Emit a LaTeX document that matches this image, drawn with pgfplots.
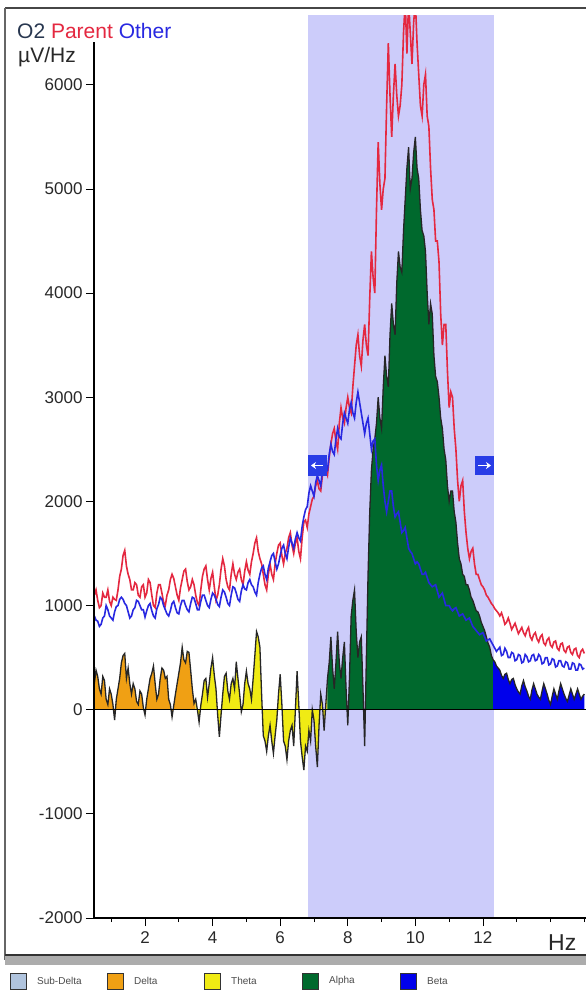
\documentclass[border=0pt]{standalone}
\usepackage{fontspec}
\setmainfont{Liberation Sans}
\usepackage{pgfplots}
\usepackage{pgfplotstable}
\pgfplotsset{compat=1.18}
\usetikzlibrary{arrows.meta}
\definecolor{parentred}{RGB}{228,40,64}
\definecolor{otherblue}{RGB}{40,40,225}
\definecolor{bandorange}{RGB}{240,160,20}
\definecolor{bandyellow}{RGB}{240,235,20}
\definecolor{bandgreen}{RGB}{0,105,45}
\definecolor{bandblue}{RGB}{0,0,235}
\definecolor{subdelta}{RGB}{176,196,222}
\definecolor{selshade}{RGB}{204,204,250}
\definecolor{arrowblue}{RGB}{40,60,230}
\definecolor{o2col}{RGB}{40,55,80}
\definecolor{labgray}{RGB}{40,40,40}

\pgfplotstableread{
x P O D
0.5 1100 900 250
0.55 1150 860 380
0.6 1050 850 320
0.65 980 800 200
0.7 1000 820 150
0.75 1120 880 320
0.8 1080 900 280
0.85 1080 1000 100
0.9 1150 960 50
0.95 1040 900 200
1.0 1000 880 150
1.05 1080 860 50
1.1 1060 940 -100
1.15 1050 990 100
1.2 1150 1000 200
1.25 1280 1060 300
1.3 1350 1080 450
1.35 1480 1060 520
1.4 1530 1020 540
1.45 1380 1000 300
1.5 1300 940 400
1.55 1250 880 250
1.6 1150 900 150
1.65 1150 960 250
1.7 1220 980 200
1.75 1200 1050 80
1.8 1100 1040 50
1.85 1080 1000 180
1.9 1180 960 150
1.95 1200 960 20
2.0 1080 890 -50
2.05 1120 950 100
2.1 1250 1000 200
2.15 1220 1020 300
2.2 1100 950 350
2.25 1000 900 420
2.3 980 880 250
2.35 1120 970 100
2.4 1200 1010 150
2.45 1200 1080 300
2.5 1120 1060 400
2.55 1030 1000 380
2.6 1000 960 300
2.65 1100 920 320
2.7 1150 900 100
2.75 1250 950 50
2.8 1300 1020 -70
2.85 1260 1040 40
2.9 1180 980 150
2.95 1100 930 250
3.0 1050 920 350
3.05 1170 1000 450
3.1 1250 1050 600
3.15 1330 1050 480
3.2 1350 1000 450
3.25 1230 960 560
3.3 1150 940 550
3.35 1180 1020 380
3.4 1250 1080 200
3.45 1200 1070 60
3.5 1100 1020 100
3.55 1030 960 0
3.6 1000 960 -120
3.65 1150 1040 40
3.7 1280 1100 150
3.75 1350 1100 280
3.8 1380 1050 300
3.85 1250 1000 120
3.9 1150 980 250
3.95 1260 1060 400
4.0 1320 1120 500
4.05 1180 1100 330
4.1 1050 1060 200
4.15 1100 1010 -50
4.2 1200 990 -260
4.25 1350 1080 -50
4.3 1450 1150 150
4.35 1380 1130 320
4.4 1250 1080 350
4.45 1180 1020 180
4.5 1150 1000 100
4.55 1300 1100 250
4.6 1400 1180 300
4.65 1300 1170 200
4.7 1250 1120 460
4.75 1320 1060 300
4.8 1350 1040 150
4.85 1250 1140 -20
4.9 1200 1200 50
4.95 1330 1160 250
5.0 1420 1150 370
5.05 1340 1220 250
5.1 1300 1250 200
5.15 1420 1200 100
5.2 1500 1180 300
5.25 1600 1130 520
5.3 1650 1100 750
5.35 1520 1220 700
5.4 1450 1300 600
5.45 1400 1360 150
5.5 1300 1380 -250
5.55 1200 1300 -300
5.6 1150 1250 -400
5.65 1300 1360 -250
5.7 1400 1420 -150
5.75 1300 1480 -300
5.8 1250 1500 -420
5.85 1400 1420 -250
5.9 1500 1350 -100
5.95 1580 1400 150
6.0 1600 1480 340
6.05 1480 1550 50
6.1 1400 1580 -300
6.15 1500 1500 -350
6.2 1550 1450 -480
6.25 1650 1560 -300
6.3 1700 1650 -200
6.35 1580 1600 -150
6.4 1500 1550 -350
6.45 1600 1640 0
6.5 1650 1700 370
6.55 1520 1650 50
6.6 1450 1620 -300
6.65 1650 1760 -450
6.7 1800 1850 -580
6.75 1820 1920 -350
6.8 1750 1950 -400
6.85 1880 2080 -200
6.9 1950 2150 -300
6.95 2020 2100 0
7.0 2050 2050 -100
7.05 2150 2180 -350
7.1 2200 2250 -550
7.15 2120 2200 -150
7.2 2100 2150 150
7.25 2250 2300 50
7.3 2350 2400 -200
7.35 2300 2320 50
7.4 2250 2300 300
7.45 2420 2450 450
7.5 2550 2550 700
7.55 2650 2480 400
7.6 2700 2450 200
7.65 2580 2600 450
7.7 2500 2700 750
7.75 2750 2620 450
7.8 2900 2600 300
7.85 2800 2750 500
7.9 2750 2850 650
7.95 2900 2800 200
8.0 3000 2750 -150
8.05 2900 2880 300
8.1 2850 2950 900
8.15 3100 2850 1050
8.2 3300 2800 1150
8.25 3500 2950 750
8.3 3600 3050 500
8.35 3400 2950 650
8.4 3300 2850 700
8.45 3550 2750 200
8.5 3700 2650 -350
8.55 3500 2750 500
8.6 3400 2800 1300
8.65 3950 2650 1900
8.7 4400 2500 2300
8.75 4150 2580 2500
8.8 4000 2600 2600
8.85 4800 2350 2750
8.9 5450 2200 3000
8.95 5050 2300 2800
9.0 4800 2350 2700
9.05 5000 2150 3100
9.1 5100 2000 3400
9.15 5800 1900 3200
9.2 6400 2000 3100
9.25 5900 2100 3600
9.3 5500 2100 3900
9.35 5900 1950 3700
9.4 6200 1850 3600
9.45 5900 1880 4100
9.5 5700 1900 4400
9.55 5800 1800 4250
9.6 6000 1700 4200
9.65 6500 1720 4600
9.7 6800 1750 4900
9.75 6300 1650 5200
9.8 6800 1550 5400
9.85 6500 1520 5000
9.9 6200 1500 5100
9.95 6600 1450 5350
10.0 6800 1400 5500
10.05 6400 1420 5200
10.1 6100 1400 5100
10.15 5800 1350 4800
10.2 5700 1300 4600
10.25 6000 1300 4550
10.3 6100 1320 4400
10.35 5700 1270 4000
10.4 5600 1220 3700
10.45 5200 1200 3900
10.5 4900 1180 3800
10.55 4800 1190 3400
10.6 4500 1200 3200
10.65 4500 1140 3150
10.7 4300 1080 3000
10.75 3800 1100 2800
10.8 3500 1120 2700
10.85 3700 1060 2500
10.9 3700 1000 2400
10.95 3250 1000 2150
11.0 2900 1000 2000
11.05 3050 970 2100
11.1 3000 950 2100
11.15 2700 970 1900
11.2 2500 980 1800
11.25 2200 940 1600
11.3 2000 900 1450
11.35 2150 910 1400
11.4 2200 920 1300
11.45 1900 890 1280
11.5 1700 860 1200
11.55 1550 870 1200
11.6 1450 880 1150
11.65 1520 840 1080
11.7 1550 800 1050
11.75 1400 780 1000
11.8 1300 760 950
11.85 1300 740 940
11.9 1250 720 900
11.95 1200 730 840
12.0 1180 740 800
12.05 1150 700 760
12.1 1100 660 700
12.15 1080 670 640
12.2 1050 680 600
12.25 1020 650 520
12.3 1000 620 480
12.35 970 590 460
12.4 950 560 420
12.45 930 580 400
12.5 900 600 380
12.55 930 520 330
12.6 880 530 300
12.65 820 590 340
12.7 840 560 350
12.75 880 500 290
12.8 830 500 250
12.85 770 550 290
12.9 800 540 300
12.95 830 470 240
13.0 780 480 200
13.05 730 530 170
13.1 760 520 150
13.15 790 450 230
13.2 740 460 280
13.25 710 530 220
13.3 760 510 180
13.35 790 460 130
13.4 700 470 100
13.45 670 520 190
13.5 720 530 250
13.55 740 470 200
13.6 680 480 150
13.65 650 530 120
13.7 700 510 100
13.75 720 440 180
13.8 640 450 250
13.85 620 500 200
13.9 670 500 150
13.95 690 430 90
14.0 620 440 50
14.05 600 490 130
14.1 650 480 200
14.15 660 410 150
14.2 590 420 100
14.25 570 470 180
14.3 630 470 250
14.35 640 420 200
14.4 570 410 150
14.45 550 460 110
14.5 600 450 80
14.55 610 390 140
14.6 550 390 200
14.65 530 450 150
14.7 580 440 100
14.75 590 380 150
14.8 520 380 200
14.85 500 440 150
14.9 560 430 100
14.95 580 390 130
15.0 540 400 150
}\spec

\begin{document}
\begin{tikzpicture}
\fill[white] (0pt,0pt) rectangle (586pt,-997pt);
\path[use as bounding box] (0pt,0pt) rectangle (586pt,-997pt);
\begin{axis}[
  at={(94pt,-918pt)}, anchor=south west,
  scale only axis, width=492pt, height=903pt,
  xmin=0.49, xmax=15.05, ymin=-2000, ymax=6670,
  axis x line=bottom, axis y line=left,
  axis line style={draw=none},
  tick align=outside,
  xtick={2,4,6,8,10,12},
  xticklabels={2,4,6,8,10,12},
  minor xtick={1,3,5,7,9,11,13,14,15},
  ytick={-2000,-1000,0,1000,2000,3000,4000,5000,6000},
  yticklabels={-2000,-1000,0,1000,2000,3000,4000,5000,6000},
  major tick length=8pt, minor tick length=4pt,
  tick style={black, line width=0.8pt},
  ticklabel style={font=\fontsize{17}{17}\selectfont, text=labgray},
  xticklabel style={yshift=-2pt},
  clip=true,
]
\addplot[draw=none, fill=selshade] coordinates {(6.82,-2000) (6.82,6670) (12.32,6670) (12.32,-2000)} -- cycle;
\addplot[draw=none, fill=bandorange, restrict x to domain=0.5:3.5] table[x=x,y=D] {\spec} \closedcycle;
\addplot[draw=none, fill=bandyellow, restrict x to domain=3.5:7.4] table[x=x,y=D] {\spec} \closedcycle;
\addplot[draw=none, fill=bandgreen, restrict x to domain=7.4:12.3] table[x=x,y=D] {\spec} \closedcycle;
\addplot[draw=none, fill=bandblue, restrict x to domain=12.3:15.0] table[x=x,y=D] {\spec} \closedcycle;
\addplot[black!85, line width=1.3pt] table[x=x,y=D] {\spec};
\addplot[parentred, line width=1.6pt] table[x=x,y=P] {\spec};
\addplot[otherblue, line width=1.6pt] table[x=x,y=O] {\spec};
\draw[black, line width=1pt] (axis cs:0.49,0) -- (axis cs:15.05,0);
\end{axis}
% axis lines
\draw[black, line width=1.2pt] (94pt,-918pt) -- (586pt,-918pt);
\draw[black, line width=1.2pt] (94pt,-42pt) -- (94pt,-918pt);
% frame
\draw[line width=2.5pt, gray!55!black] (5pt,-8pt) -- (586pt,-8pt);
\draw[line width=1.3pt, gray!80!black] (5pt,-8pt) -- (5pt,-960pt);
\fill[gray!65] (5pt,-955pt) rectangle (586pt,-965pt);
\draw[line width=1.2pt, gray!40!black] (5pt,-955pt) -- (586pt,-955pt);
% titles
\node[anchor=base west, inner sep=0pt, font=\fontsize{21}{21}\selectfont] at (17pt,-38pt)
  {\textcolor{o2col}{O2} \textcolor{parentred}{Parent} \textcolor{otherblue}{Other}};
\node[anchor=base west, inner sep=0pt, font=\fontsize{21}{21}\selectfont, text=labgray] at (18pt,-62pt) {µV/Hz};
\node[anchor=base west, inner sep=0pt, font=\fontsize{23}{23}\selectfont, text=labgray] at (548pt,-950pt) {Hz};
% selection arrows
\fill[arrowblue] (308pt,-455pt) rectangle (327pt,-476pt);
\draw[white, line width=1.6pt, -{Stealth[length=5pt,width=7pt]}] (323pt,-465.5pt) -- (311pt,-465.5pt);
\fill[arrowblue] (475pt,-456pt) rectangle (494pt,-475pt);
\draw[white, line width=1.6pt, -{Stealth[length=5pt,width=7pt]}] (478pt,-465.5pt) -- (491pt,-465.5pt);
% legend
\foreach \xx/\cc/\tt in {10/subdelta/Sub-Delta, 107/bandorange/Delta, 204/bandyellow/Theta, 302/bandgreen/Alpha, 400/bandblue/Beta}{
  \filldraw[fill=\cc, draw=black!80, line width=0.8pt] (\xx pt,-973pt) rectangle ++(16pt,-16pt);
  \node[anchor=west, inner sep=0pt, font=\fontsize{10}{10}\selectfont, text=black!70] at (\xx pt+27pt,-981pt) {\tt};
}
\end{tikzpicture}
\end{document}
